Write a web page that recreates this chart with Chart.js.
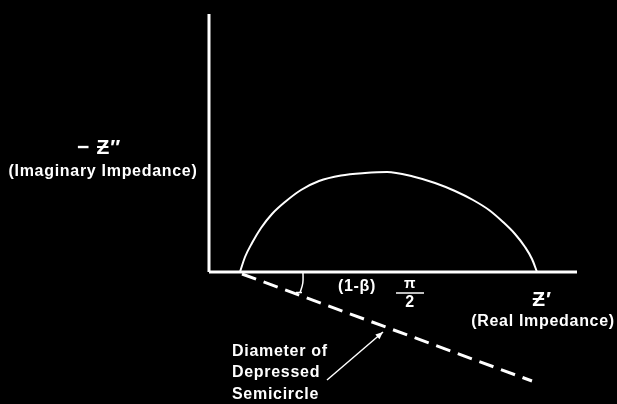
<!DOCTYPE html>
<html>
<head>
<meta charset="utf-8">
<script src="https://cdn.jsdelivr.net/npm/chart.js@4/dist/chart.umd.min.js"></script>
<style>
  html, body { margin: 0; padding: 0; background: #000; }
  canvas { display: block; }
</style>
</head>
<body>
<canvas id="nyquist" width="617" height="404"></canvas>
<script>
// Nyquist plot of a depressed semicircle (arbitrary units, origin at axis corner)
const arcX = [3.1, 3.6, 4.3, 5.2, 6.3, 7.6, 9.2, 11.0, 13.2, 15.6, 17.8,
  20.4, 22.6, 24.6, 26.4, 28.0, 29.4, 30.6, 31.6, 32.3, 32.8];
const arcY = [0, 1.5, 2.9, 4.4, 5.8, 7.0, 8.2, 9.1, 9.65, 9.9, 10.0,
  9.55, 8.9, 8.1, 7.2, 6.2, 5.0, 3.8, 2.5, 1.3, 0];

const realAxisX = [0, 36.8];
const imagAxisY = [0, 25.8];

// diameter of the depressed semicircle, below the real axis
const diameterX = [3.3, 32.3];
const diameterY = [-0.2, -10.9];

// angle mark between real axis and diameter
const angleX = [9.4, 9.38, 9.1];
const angleY = [0, -1.1, -2.1];
const angleTickX = [8.7, 9.3];
const angleTickY = [-2.05, -2.05];

// leader arrow to the "Diameter of ..." note
const arrowX = [11.8, 17.4];
const arrowY = [-10.8, -6.0];

const pts = (xs, ys) => xs.map((x, i) => ({ x, y: ys[i] }));

const labels = [
  { text: "\u2212 \u01B5\u2033", x: -11.0, y: 12.4, size: 21, align: "center" },
  { text: "(Imaginary Impedance)", x: -10.6, y: 10.0, size: 16, align: "center" },
  { text: "(1-\u03B2)", x: 14.8, y: -1.5, size: 16, align: "center" },
  { text: "\u03C0", x: 20.1, y: -1.2, size: 15, align: "center" },
  { text: "2", x: 20.1, y: -3.1, size: 16, align: "center" },
  { text: "\u01B5\u2032", x: 33.3, y: -2.8, size: 21, align: "center" },
  { text: "(Real Impedance)", x: 33.4, y: -5.0, size: 16, align: "center" },
  { text: "Diameter of", x: 2.3, y: -8.0, size: 16, align: "left" },
  { text: "Depressed", x: 2.3, y: -10.1, size: 16, align: "left" },
  { text: "Semicircle", x: 2.3, y: -12.3, size: 16, align: "left" },
];

const FONT = '"Liberation Sans", "DejaVu Sans", Arial, sans-serif';

const annotations = {
  id: "annotations",
  afterDatasetsDraw(chart) {
    const { ctx, scales: { x, y } } = chart;
    ctx.save();
    ctx.fillStyle = "#fff";
    ctx.strokeStyle = "#fff";
    ctx.textBaseline = "middle";
    ctx.letterSpacing = "0.7px";
    labels.forEach((l) => {
      ctx.font = `bold ${l.size}px ${FONT}`;
      ctx.textAlign = l.align;
      ctx.fillText(l.text, x.getPixelForValue(l.x), y.getPixelForValue(l.y));
    });

    // fraction bar of pi/2
    ctx.lineWidth = 1.5;
    ctx.beginPath();
    ctx.moveTo(x.getPixelForValue(18.7), y.getPixelForValue(-2.1));
    ctx.lineTo(x.getPixelForValue(21.5), y.getPixelForValue(-2.1));
    ctx.stroke();

    // arrow head at the end of the leader line
    const x0 = x.getPixelForValue(arrowX[0]), y0 = y.getPixelForValue(arrowY[0]);
    const x1 = x.getPixelForValue(arrowX[1]), y1 = y.getPixelForValue(arrowY[1]);
    const a = Math.atan2(y1 - y0, x1 - x0);
    const len = 8;
    ctx.beginPath();
    ctx.moveTo(x1, y1);
    ctx.lineTo(x1 - len * Math.cos(a - 0.4), y1 - len * Math.sin(a - 0.4));
    ctx.lineTo(x1 - len * Math.cos(a + 0.4), y1 - len * Math.sin(a + 0.4));
    ctx.closePath();
    ctx.fill();
    ctx.restore();
  },
};

const lineSet = (data, width, extra = {}) => ({
  data,
  showLine: true,
  borderColor: "#fff",
  borderWidth: width,
  pointRadius: 0,
  fill: false,
  ...extra,
});

new Chart(document.getElementById("nyquist"), {
  type: "scatter",
  data: {
    datasets: [
      lineSet(pts([0, 0], imagAxisY), 3),
      lineSet(pts(realAxisX, [0, 0]), 3),
      lineSet(pts(arcX, arcY), 2, { cubicInterpolationMode: "monotone" }),
      lineSet(pts(diameterX, diameterY), 3, { borderDash: [15, 8] }),
      lineSet(pts(angleX, angleY), 1.5, { tension: 0.4 }),
      lineSet(pts(angleTickX, angleTickY), 1.5),
      lineSet(pts(arrowX, arrowY), 1.5),
    ],
  },
  options: {
    responsive: false,
    animation: false,
    devicePixelRatio: 1,
    layout: { padding: 0 },
    plugins: { legend: { display: false }, tooltip: { enabled: false } },
    scales: {
      x: { type: "linear", min: -20.9, max: 40.8, display: false },
      y: { type: "linear", min: -13.2, max: 27.2, display: false },
    },
  },
  plugins: [annotations],
});
</script>
</body>
</html>
